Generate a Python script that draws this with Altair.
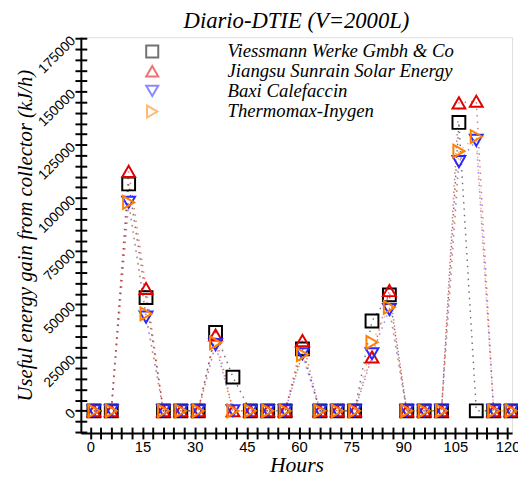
import altair as alt
import pandas as pd

hours = [1, 6, 11, 16, 21, 26, 31, 36, 41, 46, 51, 56, 61, 66, 71, 76, 81, 86, 91, 96, 101, 106, 111, 116, 121]
series = ["Viessmann Werke Gmbh & Co", "Jiangsu Sunrain Solar Energy", "Baxi Calefaccin", "Thermomax-Inygen"]
viessmann = [0, 0, 106600, 53200, 0, 0, 0, 36800, 15800, 0, 0, 0, 29100, 0, 0, 0, 42200, 54500, 0, 0, 0, 135500, 0, 0, 0]
jiangsu = [0, 0, 112500, 57500, 0, 0, 0, 35600, 0, 0, 0, 0, 33000, 0, 0, 0, 25300, 56500, 0, 0, 0, 144700, 145500, 0, 0]
baxi = [0, 0, 98000, 44000, 0, 0, 0, 31100, 0, 0, 0, 0, 26800, 0, 0, 0, 26800, 47600, 0, 0, 0, 117100, 127100, 0, 0]
thermomax = [0, 0, 97900, 45600, 0, 0, 0, 31900, 0, 0, 0, 0, 26400, 0, 0, 0, 32200, 48600, 0, 0, 0, 122000, 128900, 0, 0]
colors = ["#000000", "#e00000", "#2a2aff", "#ff8000"]
shapes = ["square", "triangle-up", "triangle-down", "triangle-right"]

rows = []
for i, (name, vals) in enumerate(zip(series, [viessmann, jiangsu, baxi, thermomax])):
    for h, v in zip(hours, vals):
        rows.append({"Hours": h, "Value": v, "Series": name, "order": i})
df = pd.DataFrame(rows)

serif = "Liberation Serif"
sans = "Liberation Sans"

xscale = alt.Scale(domain=[-2.75, 121.3], nice=False, zero=False)
yscale = alt.Scale(domain=[-10450, 175550], nice=False, zero=False)
xticks = list(range(0, 122, 3))
yticks = list(range(-10000, 175001, 5000))

xaxis = alt.Axis(
    values=xticks,
    labelExpr="datum.value % 15 == 0 ? datum.label : ''",
    format="d", grid=False, tickSize=6, tickWidth=2, domainWidth=2,
    domainColor="black", tickColor="black", labelOverlap=False,
    labelFont=sans, labelFontSize=15, labelColor="black",
    titleFont=serif, titleFontStyle="italic", titleFontWeight="normal",
    titleFontSize=22, titleColor="black", titlePadding=0, labelPadding=1,
)
yaxis = alt.Axis(
    values=yticks,
    labelExpr="datum.value % 25000 == 0 ? datum.label : ''",
    format="d", grid=False, tickSize=6, tickWidth=2, domainWidth=2,
    domainColor="black", tickColor="black", labelOverlap=False,
    labelFont=sans, labelFontSize=14, labelColor="black", labelAngle=315,
    labelAlign="right", labelBaseline="middle",
    titleFont=serif, titleFontStyle="italic", titleFontWeight="normal",
    titleFontSize=21, titleColor="black", titlePadding=0,
)
xinner = alt.Axis(values=xticks, labels=False, domain=False, grid=False, tickSize=6,
                  tickWidth=2, tickColor="black", offset=-6, title="", orient="bottom")
yinner = alt.Axis(values=yticks, labels=False, domain=False, grid=False, tickSize=6,
                  tickWidth=2, tickColor="black", offset=-6, title="", orient="left")

legend = alt.Legend(title=None, orient="none", legendX=63, legendY=5,
                    labelFont=serif, labelFontStyle="italic",
                    labelFontSize=19, labelOffset=67, symbolSize=150,
                    symbolStrokeWidth=2, rowPadding=0, padding=0,
                    labelColor="black", labelLimit=400)
color = alt.Color("Series:N", scale=alt.Scale(domain=series, range=colors), legend=legend)
shape = alt.Shape("Series:N", scale=alt.Scale(domain=series, range=shapes), legend=legend)

lines = alt.Chart(df).mark_line(strokeDash=[1.5, 5], strokeWidth=1.5, opacity=0.55).encode(
    x=alt.X("Hours:Q", scale=xscale, axis=xaxis, title="Hours"),
    y=alt.Y("Value:Q", scale=yscale, axis=yaxis, title="Useful energy gain from collector (kJ/h)"),
    color=color,
    detail="Series:N",
    order="Hours:Q",
)

points = alt.Chart(df).mark_point(filled=False, size=170, strokeWidth=2, opacity=1).encode(
    x=alt.X("Hours:Q", scale=xscale, axis=None),
    y=alt.Y("Value:Q", scale=yscale, axis=None),
    color=color,
    shape=shape,
)

inner = alt.Chart(df).mark_point(opacity=0).encode(
    x=alt.X("Hours:Q", scale=xscale, axis=xinner),
    y=alt.Y("Value:Q", scale=yscale, axis=yinner),
)

chart = alt.layer(lines, points, inner).resolve_axis(x="independent", y="independent").properties(
    width=438, height=402,
    autosize=alt.AutoSizeParams(type="none"),
    padding={"left": 74, "top": 26, "right": 6, "bottom": 43},
    title=alt.Title("Diario-DTIE (V=2000L)", font=serif, fontStyle="italic",
                    fontWeight="normal", fontSize=23, color="black", offset=1),
).configure_view(stroke="black", strokeWidth=1.5).configure_axis(
    labelOverlap=False
).configure(background="white")

chart.save("out.html", embed_options={"renderer": "svg", "actions": False})
